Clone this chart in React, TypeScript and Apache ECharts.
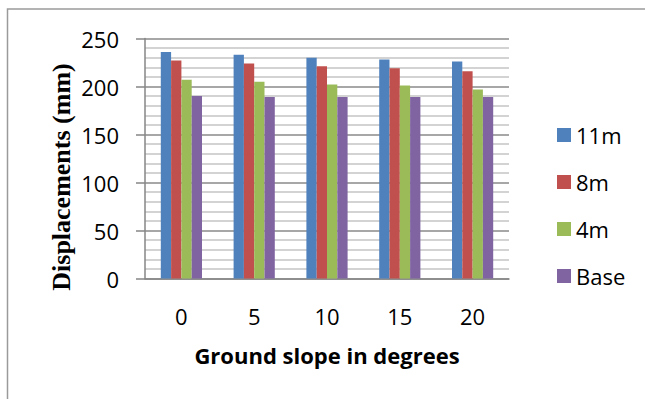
import React, { useEffect, useRef } from "react";
import * as echarts from "echarts";

const categories = ["0", "5", "10", "15", "20"];
const seriesNames = ["11m", "8m", "4m", "Base"];
const s11m = [236, 233, 230, 228, 226];
const s8m = [227, 224, 221, 219, 216];
const s4m = [207, 205, 202, 201, 197];
const sBase = [190, 189, 189, 189, 189];
const colors = ["#4F81BD", "#C0504D", "#9BBB59", "#8064A2"];
const yTitle = "Displacements (mm)";
const xTitle = "Ground slope in degrees";

export default function App() {
  const ref = useRef<HTMLDivElement>(null);
  useEffect(() => {
    if (!ref.current) return;
    const chart = echarts.init(ref.current, undefined, { renderer: "svg" });
    const values = [s11m, s8m, s4m, sBase];
    chart.setOption({
      animation: false,
      backgroundColor: "#ffffff",
      color: colors,
      graphic: [
        {
          type: "rect",
          shape: { x: 7.5, y: 9, width: 700, height: 500 },
          style: { fill: "none", stroke: "#9a9a9a", lineWidth: 1.5 },
          silent: true,
          z: -1,
        },
        {
          type: "text",
          x: 61,
          y: 177,
          rotation: Math.PI / 2,
          style: {
            text: yTitle,
            fontFamily: "Liberation Serif",
            fontWeight: "bold",
            fontSize: 26,
            fill: "#000",
            align: "center",
            verticalAlign: "middle",
          },
        },
        {
          type: "text",
          x: 327,
          y: 355,
          style: {
            text: xTitle,
            fontFamily: "Open Sans",
            fontWeight: "bold",
            fontSize: 22,
            fill: "#000",
            align: "center",
            verticalAlign: "middle",
          },
        },
      ],
      grid: { left: 145, top: 38.5, right: 136, bottom: 120.5, containLabel: false },
      legend: {
        orient: "vertical",
        left: 552,
        top: 119,
        itemWidth: 14,
        itemHeight: 14,
        itemGap: 25,
        itemTextGap: 7,
        icon: "rect",
        data: seriesNames,
        textStyle: { fontFamily: "Open Sans", fontSize: 22, color: "#000", lineHeight: 20 },
      },
      xAxis: {
        type: "category",
        data: categories,
        axisTick: { show: false },
        axisLine: { lineStyle: { color: "#868686", width: 1.5 } },
        axisLabel: { fontFamily: "Open Sans", fontSize: 22, color: "#000", margin: 26 },
      },
      yAxis: {
        type: "value",
        min: 0,
        max: 250,
        interval: 50,
        axisLine: { show: true, lineStyle: { color: "#868686", width: 1.5 } },
        axisTick: { show: true, length: 9, lineStyle: { color: "#868686", width: 1.5 } },
        axisLabel: { fontFamily: "Open Sans", fontSize: 22, color: "#000", margin: 26 },
        splitLine: { show: true, lineStyle: { color: "#8a8a8a", width: 1.5 } },
        minorTick: { show: false, splitNumber: 5 },
        minorSplitLine: { show: true, lineStyle: { color: "#c4c4c4", width: 1.5 } },
      },
      series: seriesNames.map((n, i) => ({
        name: n,
        type: "bar",
        data: values[i],
        barWidth: 10.3,
        barGap: "0%",
        itemStyle: { color: colors[i] },
      })),
    });
    return () => chart.dispose();
  }, []);
  return (
    <div
      ref={ref}
      style={{ position: "fixed", left: 0, top: 0, width: 645, height: 399 }}
    />
  );
}
